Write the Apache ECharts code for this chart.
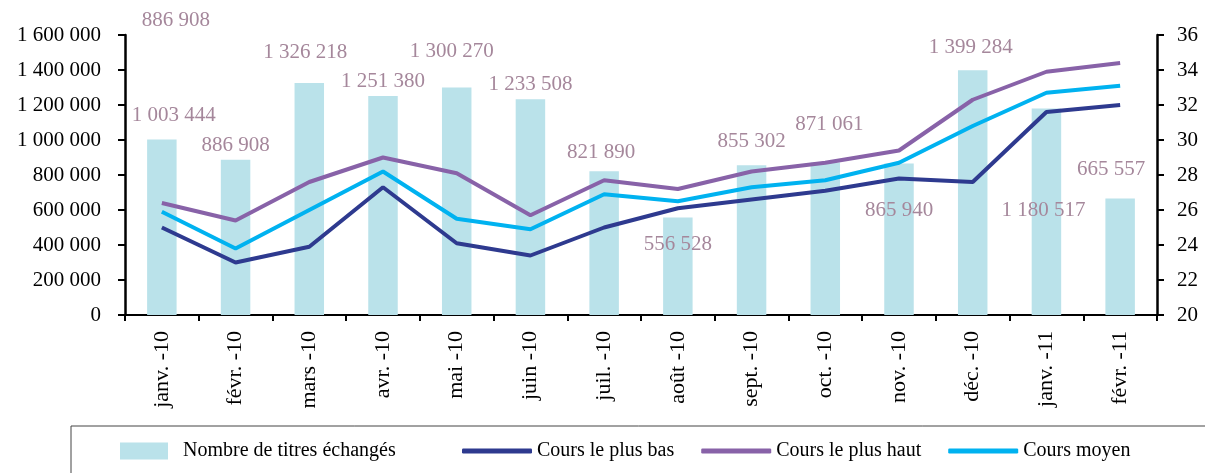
<!DOCTYPE html>
<html>
<head>
<meta charset="utf-8">
<script src="https://cdn.jsdelivr.net/npm/echarts@6/dist/echarts.min.js"></script>
<style>
    html, body { margin: 0; padding: 0; background: #fff; }
    #chart { width: 1205px; height: 473px; }
</style>
</head>
<body>
<div id="chart"></div>
<script>
const categories = ['janv. -10', 'févr. -10', 'mars -10', 'avr. -10', 'mai -10', 'juin -10', 'juil. -10',
    'août -10', 'sept. -10', 'oct. -10', 'nov. -10', 'déc. -10', 'janv. -11', 'févr. -11']
const titresEchanges = [1003444, 886908, 1326218, 1251380, 1300270, 1233508, 821890,
    556528, 855302, 871061, 865940, 1399284, 1180517, 665557]
const coursBas = [25.0, 23.0, 23.9, 27.3, 24.1, 23.4, 25.0, 26.1, 26.6, 27.1, 27.8, 27.6, 31.6, 32.0]
const coursHaut = [26.4, 25.4, 27.6, 29.0, 28.1, 25.7, 27.7, 27.2, 28.2, 28.7, 29.4, 32.3, 33.9, 34.4]
const coursMoyen = [25.9, 23.8, 26.0, 28.2, 25.5, 24.9, 26.9, 26.5, 27.3, 27.7, 28.7, 30.8, 32.7, 33.1]

// where the bar labels sit, relative to the bar top (the source chart moved them by hand)
const labelOffsets = [[12, -13], [0, -4], [-4, -20], [0, -4], [-5, -25], [0, -4], [-3, -8],
    [0, 37], [0, -13], [4, -28], [0, 58], [-2, -12], [-3, 113], [-9, -19]]

const fontFamily = '"Liberation Serif", "DejaVu Serif", serif'
const labelColor = '#A5879B'

function fmt(v) {
    return String(v).replace(/\B(?=(\d{3})+(?!\d))/g, ' ')
}

const chart = echarts.init(document.getElementById('chart'))

chart.setOption({
    animation: false,
    textStyle: { fontFamily: fontFamily },
    grid: {
        left: 125,
        right: 48,
        top: 35,
        bottom: 158,
        containLabel: false,
        outerBoundsMode: 'none'
    },
    legend: [{
        data: ['Nombre de titres échangés'],
        left: 120,
        top: 441,
        padding: 0,
        itemWidth: 48,
        itemHeight: 17,
        icon: 'rect',
        textStyle: { fontFamily: fontFamily, fontSize: 20, color: '#000', padding: [0, 0, 0, 10] }
    }, {
        data: ['Cours le plus bas', 'Cours le plus haut', 'Cours moyen'],
        left: 462,
        top: 441,
        padding: 0,
        icon: 'roundRect',
        itemWidth: 70,
        itemHeight: 5,
        itemGap: 27,
        textStyle: { fontFamily: fontFamily, fontSize: 20, color: '#000' }
    }],
    graphic: [{
        type: 'rect',
        shape: { x: 71, y: 426, width: 1160, height: 80 },
        style: { fill: 'none', stroke: '#444', lineWidth: 1 },
        silent: true
    }],
    xAxis: [{
        type: 'category',
        data: categories,
        axisLine: { lineStyle: { color: '#000', width: 2 } },
        axisTick: { show: true, length: 6, lineStyle: { color: '#000', width: 2 } },
        axisLabel: {
            rotate: 90,
            margin: 16,
            interval: 0,
            color: '#000',
            fontSize: 22,
            fontFamily: fontFamily
        }
    }],
    yAxis: [{
        type: 'value',
        min: 0,
        max: 1600000,
        interval: 200000,
        axisLine: { show: true, lineStyle: { color: '#000', width: 2.5 } },
        axisTick: { show: true, length: 7, lineStyle: { color: '#000', width: 2 } },
        splitLine: { show: false },
        axisLabel: {
            margin: 24,
            color: '#000',
            fontSize: 21,
            fontFamily: fontFamily,
            formatter: fmt
        }
    }, {
        type: 'value',
        min: 20,
        max: 36,
        interval: 2,
        position: 'right',
        axisLine: { show: true, lineStyle: { color: '#000', width: 2.5 } },
        axisTick: { show: true, length: 7, lineStyle: { color: '#000', width: 2 } },
        splitLine: { show: false },
        axisLabel: {
            margin: 20,
            color: '#000',
            fontSize: 21,
            fontFamily: fontFamily
        }
    }],
    series: [{
        name: 'Nombre de titres échangés',
        type: 'bar',
        yAxisIndex: 0,
        barWidth: '40%',
        itemStyle: { color: '#BAE2EA' },
        data: titresEchanges.map((v, i) => ({
            value: v,
            label: {
                show: true,
                position: 'top',
                distance: 0,
                offset: labelOffsets[i],
                color: labelColor,
                fontSize: 21,
                fontFamily: fontFamily,
                formatter: p => fmt(p.value)
            }
        })),
        markPoint: {
            silent: true,
            symbolSize: 0,
            label: {
                show: true,
                position: 'inside',
                offset: [14, -15],
                color: labelColor,
                fontSize: 21,
                fontFamily: fontFamily,
                formatter: p => fmt(p.value)
            },
            data: [{ coord: [0, 1600000], value: titresEchanges[1] }]
        }
    }, {
        name: 'Cours le plus bas',
        type: 'line',
        yAxisIndex: 1,
        symbol: 'none',
        lineStyle: { width: 4, color: '#2E3A8F' },
        itemStyle: { color: '#2E3A8F' },
        data: coursBas
    }, {
        name: 'Cours le plus haut',
        type: 'line',
        yAxisIndex: 1,
        symbol: 'none',
        lineStyle: { width: 4, color: '#8862A8' },
        itemStyle: { color: '#8862A8' },
        data: coursHaut
    }, {
        name: 'Cours moyen',
        type: 'line',
        yAxisIndex: 1,
        symbol: 'none',
        lineStyle: { width: 4, color: '#00B2F0' },
        itemStyle: { color: '#00B2F0' },
        data: coursMoyen
    }]
})
</script>
</body>
</html>
